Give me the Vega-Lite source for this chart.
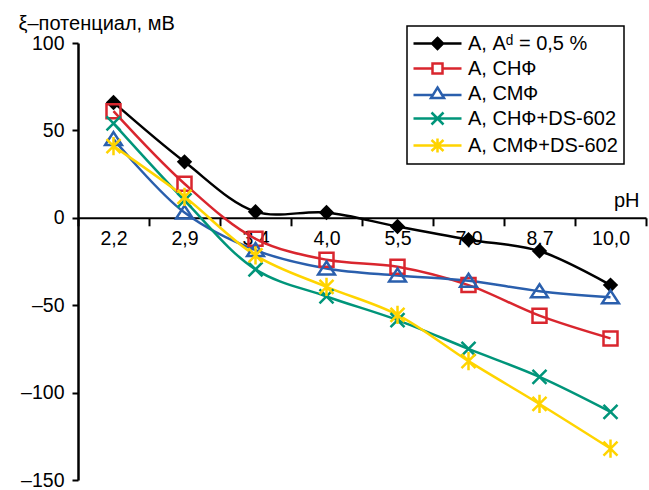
{
  "$schema": "https://vega.github.io/schema/vega-lite/v6.json",
  "width": 568,
  "height": 437,
  "autosize": {"type": "none"},
  "padding": {"left": 78, "top": 43, "right": 3, "bottom": 10},
  "background": "white",
  "config": {
    "view": {"stroke": null},
    "font": "Liberation Sans",
    "axis": {"grid": false, "domainColor": "black", "tickColor": "black", "labelColor": "black", "titleColor": "black", "labelFont": "Liberation Sans", "titleFont": "Liberation Sans", "labelFontSize": 19.5, "titleFontSize": 20, "titleFontWeight": "normal"},
    "point": {"filled": false, "size": 196, "strokeWidth": 2.5, "opacity": 1}
  },
  "data": {
    "values": [
      {"s": "А, Аᵈ = 0,5 %", "pH": "2,2", "v": 66},
      {"s": "А, Аᵈ = 0,5 %", "pH": "2,9", "v": 32},
      {"s": "А, Аᵈ = 0,5 %", "pH": "3,4", "v": 3.5},
      {"s": "А, Аᵈ = 0,5 %", "pH": "4,0", "v": 3},
      {"s": "А, Аᵈ = 0,5 %", "pH": "5,5", "v": -5},
      {"s": "А, Аᵈ = 0,5 %", "pH": "7,0", "v": -12.5},
      {"s": "А, Аᵈ = 0,5 %", "pH": "8,7", "v": -19},
      {"s": "А, Аᵈ = 0,5 %", "pH": "10,0", "v": -38.5},
      {"s": "А, СНФ", "pH": "2,2", "v": 61},
      {"s": "А, СНФ", "pH": "2,9", "v": 19.5},
      {"s": "А, СНФ", "pH": "3,4", "v": -12},
      {"s": "А, СНФ", "pH": "4,0", "v": -24},
      {"s": "А, СНФ", "pH": "5,5", "v": -28},
      {"s": "А, СНФ", "pH": "7,0", "v": -38.5},
      {"s": "А, СНФ", "pH": "8,7", "v": -56},
      {"s": "А, СНФ", "pH": "10,0", "v": -69},
      {"s": "А, СМФ", "pH": "2,2", "v": 45},
      {"s": "А, СМФ", "pH": "2,9", "v": 3},
      {"s": "А, СМФ", "pH": "3,4", "v": -18.5},
      {"s": "А, СМФ", "pH": "4,0", "v": -29},
      {"s": "А, СМФ", "pH": "5,5", "v": -33},
      {"s": "А, СМФ", "pH": "7,0", "v": -36},
      {"s": "А, СМФ", "pH": "8,7", "v": -42},
      {"s": "А, СМФ", "pH": "10,0", "v": -45.5},
      {"s": "А, СНФ+DS-602", "pH": "2,2", "v": 54},
      {"s": "А, СНФ+DS-602", "pH": "2,9", "v": 10},
      {"s": "А, СНФ+DS-602", "pH": "3,4", "v": -29.5},
      {"s": "А, СНФ+DS-602", "pH": "4,0", "v": -45},
      {"s": "А, СНФ+DS-602", "pH": "5,5", "v": -58.5},
      {"s": "А, СНФ+DS-602", "pH": "7,0", "v": -75},
      {"s": "А, СНФ+DS-602", "pH": "8,7", "v": -91},
      {"s": "А, СНФ+DS-602", "pH": "10,0", "v": -111},
      {"s": "А, СМФ+DS-602", "pH": "2,2", "v": 41},
      {"s": "А, СМФ+DS-602", "pH": "2,9", "v": 12},
      {"s": "А, СМФ+DS-602", "pH": "3,4", "v": -21.5},
      {"s": "А, СМФ+DS-602", "pH": "4,0", "v": -39.5},
      {"s": "А, СМФ+DS-602", "pH": "5,5", "v": -55.5},
      {"s": "А, СМФ+DS-602", "pH": "7,0", "v": -82},
      {"s": "А, СМФ+DS-602", "pH": "8,7", "v": -106.5},
      {"s": "А, СМФ+DS-602", "pH": "10,0", "v": -132}
    ]
  },
  "encoding": {
    "x": {
      "field": "pH", "type": "ordinal", "sort": null,
      "scale": {"paddingInner": 0, "paddingOuter": 0},
      "axis": {
        "orient": "bottom", "offset": -262.2, "labelAngle": 0, "labelAlign": "center", "labelBaseline": "top",
        "tickBand": "extent", "tickSize": 8, "tickWidth": 2, "domainWidth": 2, "labelPadding": 4,
        "title": "pH", "titleAngle": 0, "titleAlign": "right", "titleBaseline": "alphabetic", "titleX": 561, "titleY": -11
      }
    },
    "y": {
      "field": "v", "type": "quantitative",
      "scale": {"domain": [-150, 100], "nice": false, "zero": false},
      "axis": {
        "values": [-150, -100, -50, 0, 50, 100], "tickSize": 6, "tickWidth": 2, "domainWidth": 2.5, "labelPadding": 8,
        "labelExpr": "replace(datum.label, '−', '–')",
        "title": "ξ–потенциал, мВ", "titleAngle": 0, "titleAlign": "left", "titleBaseline": "alphabetic", "titleX": -60, "titleY": -14
      }
    },
    "color": {
      "field": "s", "type": "nominal",
      "scale": {
        "domain": ["А, Аᵈ = 0,5 %", "А, СНФ", "А, СМФ", "А, СНФ+DS-602", "А, СМФ+DS-602"],
        "range": ["#000000", "#d9262e", "#2a5fad", "#00957a", "#ffd400"]
      },
      "legend": {
        "title": null, "orient": "none", "legendX": 329, "legendY": -17,
        "strokeColor": "black", "padding": 6, "symbolSize": 400, "rowPadding": 3,
        "labelOffset": 32, "labelFont": "Liberation Sans", "labelFontSize": 20, "labelColor": "black", "symbolStrokeWidth": 2.5,
        "encode": {
          "legend": {"update": {"strokeWidth": {"value": 1.5}}},
          "symbols": {
            "update": {
              "size": {"value": 400},
              "shape": {"signal": "datum.value === 'А, Аᵈ = 0,5 %' ? 'M-1.1,0H3.7M1.3,-0.55L1.85,0L1.3,0.55L0.75,0Z' : datum.value === 'А, СНФ' ? 'M-1.1,0H0.8M1.8,0H3.7M0.8,-0.5H1.8V0.5H0.8Z' : datum.value === 'А, СМФ' ? 'M-1.1,0.15H0.84M1.76,0.15H3.7M1.3,-0.6L1.95,0.45H0.65Z' : datum.value === 'А, СНФ+DS-602' ? 'M-1.1,0H3.7M0.7,-0.6L1.9,0.6M1.9,-0.6L0.7,0.6' : 'M-1.1,0H3.7M0.7,-0.55L1.9,0.55M1.9,-0.55L0.7,0.55M1.3,-0.7V0.7'"},
              "fill": {"signal": "datum.value === 'А, Аᵈ = 0,5 %' ? 'black' : 'transparent'"},
              "fillOpacity": {"signal": "datum.value === 'А, Аᵈ = 0,5 %' ? 1 : 0"},
              "strokeWidth": {"value": 2.5},
              "opacity": {"value": 1}
            }
          }
        }
      }
    }
  },
  "layer": [
    {"mark": {"type": "line", "interpolate": "catmull-rom", "strokeWidth": 2.5}},
    {"transform": [{"filter": "datum.s === 'А, Аᵈ = 0,5 %'"}], "mark": {"type": "point", "filled": true, "shape": "M0,-1.1L1.1,0L0,1.1L-1.1,0Z"}},
    {"transform": [{"filter": "datum.s === 'А, СНФ'"}], "mark": {"type": "point", "shape": "M-1,-1H1V1H-1Z"}},
    {"transform": [{"filter": "datum.s === 'А, СМФ'"}], "mark": {"type": "point", "shape": "M0,-1L1.2,0.85H-1.2Z"}},
    {"transform": [{"filter": "datum.s === 'А, СНФ+DS-602'"}], "mark": {"type": "point", "shape": "M-1,-1L1,1M1,-1L-1,1"}},
    {"transform": [{"filter": "datum.s === 'А, СМФ+DS-602'"}], "mark": {"type": "point", "shape": "M-1,-1L1,1M1,-1L-1,1M0,-1.3V1.3"}}
  ]
}
